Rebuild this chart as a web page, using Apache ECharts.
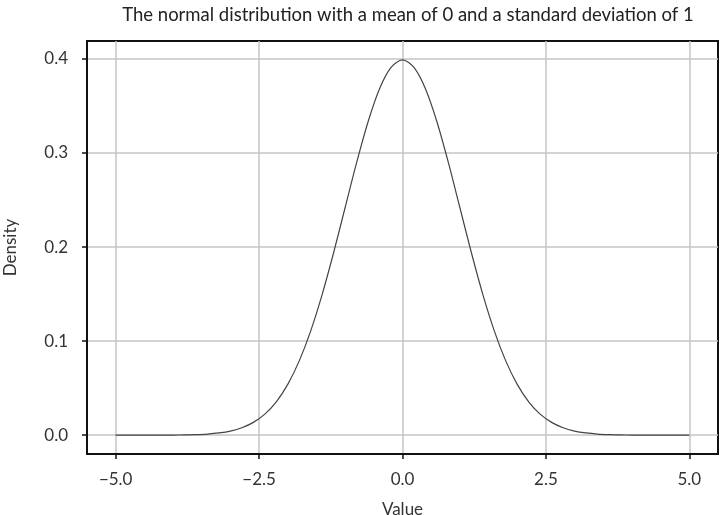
<!DOCTYPE html>
<html>
<head>
    <meta charset="UTF-8">
    <title>Normal distribution</title>
    <script src="https://cdn.jsdelivr.net/npm/echarts@6/dist/echarts.min.js"></script>
    <style>
        html, body { margin: 0; padding: 0; background: #fff; }
        #main { width: 720px; height: 515px; }
    </style>
</head>
<body>
<div id="main"></div>
<script>
    // values
    var xValues = [-5, -4.8, -4.6, -4.4, -4.2, -4, -3.8, -3.6, -3.4, -3.2, -3, -2.8, -2.6, -2.4, -2.2, -2, -1.8, -1.6, -1.4, -1.2, -1,
        -0.8, -0.6, -0.4, -0.2, 0, 0.2, 0.4, 0.6, 0.8, 1, 1.2, 1.4, 1.6, 1.8, 2, 2.2, 2.4, 2.6, 2.8, 3,
        3.2, 3.4, 3.6, 3.8, 4, 4.2, 4.4, 4.6, 4.8, 5];
    var density = [0.0000, 0.0000, 0.0000, 0.0000, 0.0000, 0.0001, 0.0003, 0.0006, 0.0012, 0.0024, 0.0044, 0.0079, 0.0136, 0.0224, 0.0355, 0.0540, 0.0790, 0.1109, 0.1497, 0.1942, 0.2420,
        0.2897, 0.3332, 0.3683, 0.3910, 0.3989, 0.3910, 0.3683, 0.3332, 0.2897, 0.2420, 0.1942, 0.1497, 0.1109, 0.0790, 0.0540, 0.0355, 0.0224, 0.0136, 0.0079, 0.0044,
        0.0024, 0.0012, 0.0006, 0.0003, 0.0001, 0.0000, 0.0000, 0.0000, 0.0000, 0.0000];
    var xTicks = [-5, -2.5, 0, 2.5, 5];
    var yTicks = [0, 0.1, 0.2, 0.3, 0.4];

    var points = [];
    for (var i = 0; i < xValues.length; i++) {
        points.push([xValues[i], density[i]]);
    }

    var font = 'Lato';
    var chart = echarts.init(document.getElementById('main'));
    chart.setOption({
        animation: false,
        title: {
            text: 'The normal distribution with a mean of 0 and a standard deviation of 1',
            left: 403, top: 1, textAlign: 'center',
            textStyle: { fontFamily: font, fontSize: 18.5, fontWeight: 'normal', color: '#222' }
        },
        grid: { left: 87, right: 2, top: 41, bottom: 61, show: true, borderColor: '#111', borderWidth: 2,
            outerBoundsMode: 'none', containLabel: false },
        xAxis: {
            type: 'value', min: -5.5, max: 5.5,
            name: 'Value', nameLocation: 'middle', nameGap: 47,
            nameTextStyle: { fontFamily: font, fontSize: 17, color: '#333' },
            axisLine: { show: true, onZero: false, lineStyle: { color: '#111', width: 2 } },
            axisTick: { show: true, length: 5, customValues: xTicks, lineStyle: { color: '#111', width: 1.5 } },
            axisLabel: { customValues: xTicks, margin: 17, fontFamily: font, fontSize: 17, color: '#333',
                formatter: function (v) { return v.toFixed(1).replace('-', '\u2212'); } },
            splitLine: { show: true, lineStyle: { color: '#c4c4c4', width: 1.5 } }
        },
        yAxis: {
            type: 'value', min: -0.02, max: 0.419,
            name: 'Density', nameLocation: 'middle', nameGap: 68, nameRotate: 90,
            nameTextStyle: { fontFamily: font, fontSize: 17, color: '#333' },
            axisLine: { show: true, onZero: false, lineStyle: { color: '#111', width: 2 } },
            axisTick: { show: true, length: 5, customValues: yTicks, lineStyle: { color: '#111', width: 1.5 } },
            axisLabel: { customValues: yTicks, margin: 19, fontFamily: font, fontSize: 17, color: '#333',
                formatter: function (v) { return v.toFixed(1); } },
            splitLine: { show: true, lineStyle: { color: '#c4c4c4', width: 1.5 } }
        },
        series: [{
            type: 'line',
            data: points,
            smooth: 0.3,
            showSymbol: false,
            lineStyle: { color: '#444', width: 1.2 }
        }]
    });
</script>
</body>
</html>
